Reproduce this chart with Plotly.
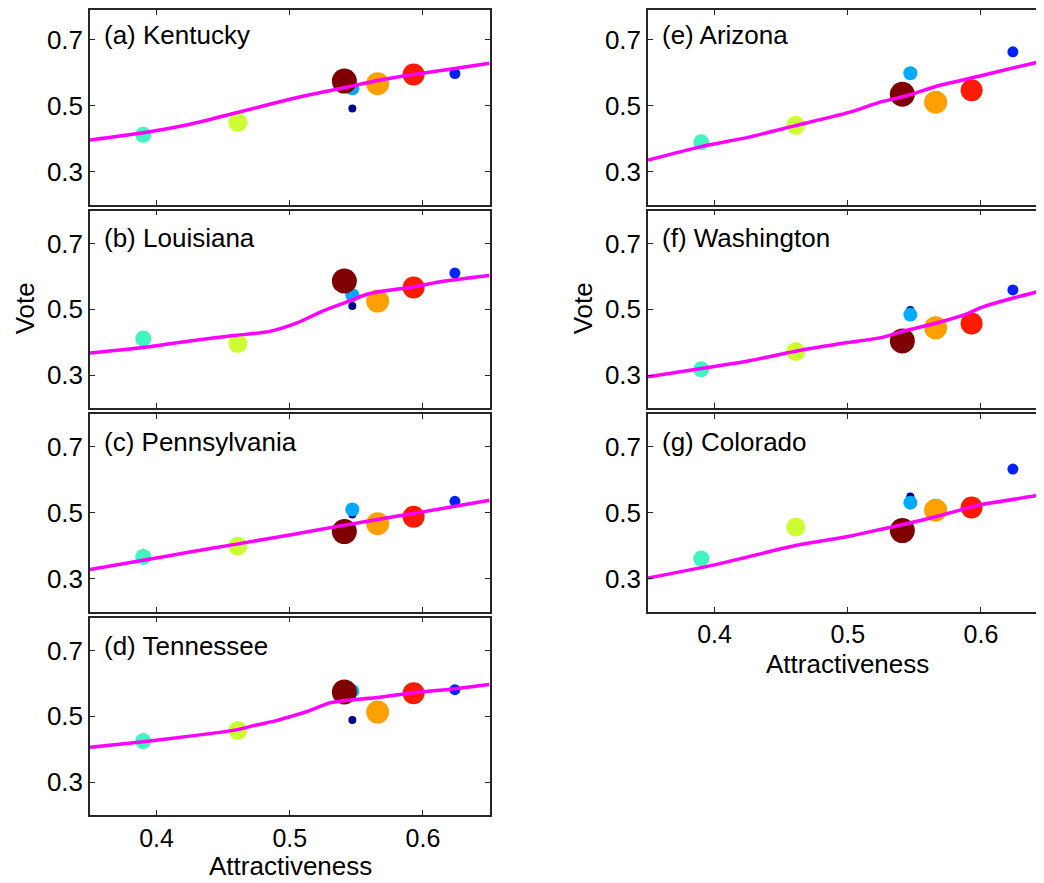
import plotly.graph_objects as go

# The page body has an 8px margin; lay the figure out in window pixels and shift.
OFF = 8
W, H = 1044 - OFF, 883 - OFF

# Candidates (draw order: small markers first)
cand_names = ["c1", "c2", "c3", "c4", "c5", "c6", "c7", "c8"]
cand_colors = ["#00008F", "#0022FF", "#00AAFF", "#40F5C0", "#CCFF33", "#FF1A00", "#FF9F00", "#7F0000"]
cand_sizes = [8, 11, 14, 16, 19, 22, 23, 25]
attract = [0.547, 0.624, 0.547, 0.390, 0.461, 0.593, 0.566, 0.541]

# Observed vote shares per state (same candidate order)
vote_kentucky = [0.492, 0.598, 0.553, 0.412, 0.449, 0.595, 0.567, 0.575]
vote_louisiana = [0.510, 0.610, 0.543, 0.411, 0.396, 0.566, 0.525, 0.586]
vote_pennsylvania = [0.495, 0.535, 0.510, 0.366, 0.399, 0.488, 0.467, 0.443]
vote_tennessee = [0.489, 0.581, 0.577, 0.425, 0.457, 0.570, 0.513, 0.574]
vote_arizona = [0.597, 0.664, 0.599, 0.389, 0.441, 0.547, 0.511, 0.535]
vote_washington = [0.498, 0.559, 0.484, 0.318, 0.372, 0.457, 0.444, 0.404]
vote_colorado = [0.550, 0.633, 0.531, 0.361, 0.457, 0.516, 0.508, 0.446]

# Fitted curves (magenta)
fit_x_kentucky = [0.35, 0.39, 0.425, 0.46, 0.50, 0.525, 0.54, 0.566, 0.593, 0.624, 0.65]
fit_y_kentucky = [0.396, 0.418, 0.444, 0.479, 0.520, 0.542, 0.554, 0.577, 0.595, 0.613, 0.629]
fit_x_louisiana = [0.35, 0.39, 0.425, 0.46, 0.485, 0.505, 0.525, 0.54, 0.5575, 0.566, 0.593, 0.615, 0.65]
fit_y_louisiana = [0.367, 0.384, 0.404, 0.421, 0.433, 0.458, 0.495, 0.518, 0.545, 0.553, 0.568, 0.585, 0.603]
fit_x_pennsylvania = [0.35, 0.39, 0.425, 0.46, 0.50, 0.54, 0.566, 0.60, 0.65]
fit_y_pennsylvania = [0.328, 0.356, 0.381, 0.405, 0.433, 0.462, 0.480, 0.503, 0.538]
fit_x_tennessee = [0.35, 0.39, 0.425, 0.46, 0.475, 0.49, 0.50, 0.5125, 0.53, 0.542, 0.5675, 0.593, 0.624, 0.65]
fit_y_tennessee = [0.406, 0.423, 0.440, 0.459, 0.474, 0.487, 0.499, 0.514, 0.541, 0.548, 0.558, 0.572, 0.584, 0.597]
fit_x_arizona = [0.35, 0.39, 0.425, 0.46, 0.501, 0.525, 0.542, 0.568, 0.60, 0.625, 0.65]
fit_y_arizona = [0.335, 0.376, 0.404, 0.439, 0.480, 0.512, 0.528, 0.561, 0.591, 0.616, 0.639]
fit_x_washington = [0.35, 0.39, 0.425, 0.46, 0.50, 0.525, 0.542, 0.568, 0.59, 0.60, 0.625, 0.65]
fit_y_washington = [0.295, 0.320, 0.343, 0.372, 0.399, 0.414, 0.434, 0.460, 0.487, 0.505, 0.535, 0.561]
fit_x_colorado = [0.35, 0.40, 0.46, 0.50, 0.517, 0.54, 0.566, 0.593, 0.60, 0.65]
fit_y_colorado = [0.302, 0.342, 0.400, 0.428, 0.443, 0.463, 0.488, 0.518, 0.525, 0.557]

panel_titles = ["(a) Kentucky", "(b) Louisiana", "(c) Pennsylvania", "(d) Tennessee",
                "(e) Arizona", "(f) Washington", "(g) Colorado"]
panel_votes = [vote_kentucky, vote_louisiana, vote_pennsylvania, vote_tennessee,
               vote_arizona, vote_washington, vote_colorado]
panel_fit_x = [fit_x_kentucky, fit_x_louisiana, fit_x_pennsylvania, fit_x_tennessee,
               fit_x_arizona, fit_x_washington, fit_x_colorado]
panel_fit_y = [fit_y_kentucky, fit_y_louisiana, fit_y_pennsylvania, fit_y_tennessee,
               fit_y_arizona, fit_y_washington, fit_y_colorado]

x_ticks = [0.4, 0.5, 0.6]
x_tick_labels = ["0.4", "0.5", "0.6"]
y_ticks = [0.3, 0.5, 0.7]
y_tick_labels = ["0.3", "0.5", "0.7"]
x_label = "Attractiveness"
y_label = "Vote"

FONT = "Arial, Liberation Sans, sans-serif"
AX = "#262626"
px_per_unit_x = 399.5 / 0.3
px_per_unit_y = 198 / 0.6
tops = [5, 209, 413, 617, 5, 209, 413]
ph = 198


def fx(px):
    return (px - OFF) / W


def fy(py):
    return 1 - (py - OFF) / H


fig = go.Figure()
layout = dict(width=W, height=H, margin=dict(l=0, r=0, t=0, b=0),
              paper_bgcolor="white", plot_bgcolor="white", showlegend=False,
              font=dict(family=FONT, color="black", size=25))
annotations = []

for i in range(7):
    n = "" if i == 0 else str(i + 1)
    left = i < 4
    if left:
        x0, x1 = 90, 489.5
        xr = [0.35, 0.65]
    else:
        x0, x1 = 648, 1044
        xr = [0.35, 0.35 + (x1 - x0) / px_per_unit_x]
    top = tops[i]
    vis_top = max(top, OFF)
    yr = [0.2, 0.8 - (vis_top - top) / px_per_unit_y]
    ydom = [fy(top + ph), min(1.0, fy(vis_top))]
    xdom = [fx(x0), min(1.0, fx(x1))]
    bottom_panel = i in (3, 6)
    layout["xaxis" + n] = dict(domain=xdom, range=xr, anchor="y" + n,
                               tickvals=x_ticks, ticktext=x_tick_labels,
                               showticklabels=bottom_panel, ticks="inside", ticklen=5,
                               tickcolor=AX, showline=True, linecolor=AX, linewidth=1.5,
                               mirror="ticks", showgrid=False, zeroline=False,
                               tickfont=dict(size=25, family=FONT, color="black"))
    layout["yaxis" + n] = dict(domain=ydom, range=yr, anchor="x" + n,
                               tickvals=y_ticks, ticktext=y_tick_labels,
                               ticks="inside", ticklen=5, tickcolor=AX,
                               showline=True, linecolor=AX, linewidth=1.5,
                               mirror="ticks" if left else False,
                               showgrid=False, zeroline=False,
                               tickfont=dict(size=26, family=FONT, color="black"))
    xa = "x" + n
    ya = "y" + n
    fig.add_trace(go.Scatter(x=attract, y=panel_votes[i], mode="markers", xaxis=xa, yaxis=ya,
                             marker=dict(color=cand_colors, size=cand_sizes, opacity=1,
                                         line=dict(width=0)),
                             hoverinfo="x+y"))
    fig.add_trace(go.Scatter(x=panel_fit_x[i], y=panel_fit_y[i], mode="lines", xaxis=xa, yaxis=ya,
                             line=dict(color="#FF00FF", width=3.5, shape="spline", smoothing=0.6),
                             hoverinfo="skip"))
    annotations.append(dict(text=panel_titles[i], xref="paper", yref="paper",
                            x=fx(x0 + 12), y=fy(top + 28),
                            xanchor="left", yanchor="middle", showarrow=False,
                            font=dict(size=26, family=FONT, color="black")))

# axis labels
annotations.append(dict(text=x_label, xref="paper", yref="paper", x=fx(290), y=fy(866),
                        xanchor="center", yanchor="middle", showarrow=False,
                        font=dict(size=26, family=FONT, color="black")))
annotations.append(dict(text=x_label, xref="paper", yref="paper", x=fx(847), y=fy(663),
                        xanchor="center", yanchor="middle", showarrow=False,
                        font=dict(size=26, family=FONT, color="black")))
annotations.append(dict(text=y_label, xref="paper", yref="paper", x=fx(25), y=fy(307),
                        xanchor="center", yanchor="middle", showarrow=False, textangle=-90,
                        font=dict(size=26, family=FONT, color="black")))
annotations.append(dict(text=y_label, xref="paper", yref="paper", x=fx(583), y=fy(307),
                        xanchor="center", yanchor="middle", showarrow=False, textangle=-90,
                        font=dict(size=26, family=FONT, color="black")))

layout["annotations"] = annotations
fig.update_layout(**layout)
fig.write_html("out.html")
